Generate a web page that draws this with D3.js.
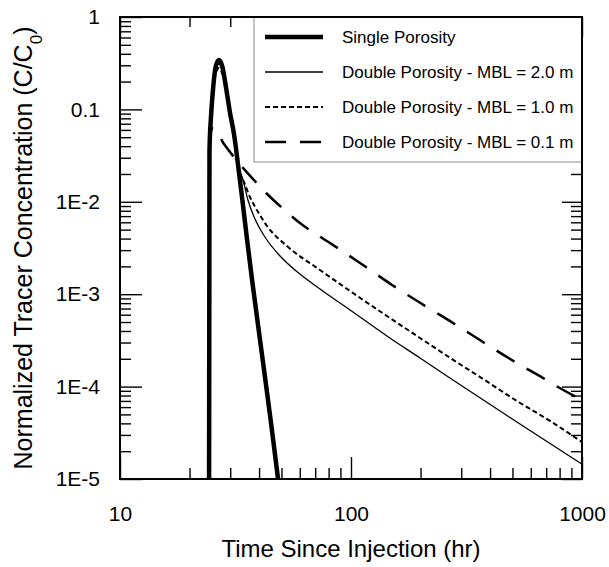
<!DOCTYPE html>
<html>
<head>
<meta charset="utf-8">
<script src="https://cdn.jsdelivr.net/npm/d3@7/dist/d3.min.js"></script>
<style>
  body { margin: 0; background: #fff; }
  text { font-family: "Liberation Sans", Arial, Helvetica, sans-serif; fill: #000; }
</style>
</head>
<body>
<div id="chart"></div>
<script>
// values: time since injection (hr) -> C/C0
const tSingle = [24.3, 24.4, 24.8, 25.3, 26.0, 26.8, 27.7, 28.8, 29.9, 31.2, 32.4, 33.7, 35.5, 37.3, 41.2, 44.6, 47.8, 48.3];
const cSingle = [1e-5, 0.036, 0.087, 0.17, 0.295, 0.343, 0.295, 0.17, 0.0937, 0.0528, 0.0257, 0.01155, 3.86e-3, 1.43e-3, 2.2e-4, 4.93e-5, 1.25e-5, 1e-5];

const tMbl20 = [24.3, 24.4, 24.5, 25.0, 25.8, 26.8, 27.9, 29.1, 30.2, 31.5, 32.8, 34.1, 35.8, 38.4, 42.4, 49.3, 60.1, 73.4, 102, 143, 199, 268, 442, 658, 1000];
const cMbl20 = [1e-5, 0.036, 0.047, 0.126, 0.254, 0.310, 0.254, 0.154, 0.0827, 0.0444, 0.0232, 0.0172, 0.01045, 6.51e-3, 4.16e-3, 2.59e-3, 1.65e-3, 1.14e-3, 6.41e-4, 3.53e-4, 2.04e-4, 1.24e-4, 5.44e-5, 2.85e-5, 1.45e-5];

const tMbl10 = [24.3, 24.4, 24.5, 25.0, 25.8, 26.8, 27.9, 29.1, 30.2, 31.5, 32.8, 34.4, 36.5, 39.6, 43.3, 52.8, 73.4, 102, 143, 199, 282, 373, 523, 727, 1000];
const cMbl10 = [1e-5, 0.036, 0.047, 0.117, 0.230, 0.281, 0.230, 0.143, 0.0768, 0.0412, 0.0221, 0.0164, 0.0113, 7.76e-3, 5.47e-3, 3.32e-3, 1.83e-3, 1.03e-3, 5.81e-4, 3.36e-4, 1.89e-4, 1.21e-4, 6.98e-5, 4.25e-5, 2.51e-5];

const tMbl01 = [24.3, 24.4, 24.5, 25.3, 28.2, 32.4, 37.3, 42.9, 49.3, 60.1, 81.1, 109.4, 150.5, 203, 276.5, 372.8, 512.9, 678, 787, 1000];
const cMbl01 = [1e-5, 0.036, 0.0528, 0.0629, 0.0422, 0.027, 0.0181, 0.01245, 9.0e-3, 5.9e-3, 3.58e-3, 2.18e-3, 1.26e-3, 7.83e-4, 4.88e-4, 3.04e-4, 1.85e-4, 1.24e-4, 9.9e-5, 7.16e-5];

const seriesNames = ["Single Porosity", "Double Porosity - MBL = 2.0 m", "Double Porosity - MBL = 1.0 m", "Double Porosity - MBL = 0.1 m"];
const xTickValues = [10, 100, 1000];
const xTickLabels = ["10", "100", "1000"];
const yTickValues = [1, 0.1, 1e-2, 1e-3, 1e-4, 1e-5];
const yTickLabels = ["1", "0.1", "1E-2", "1E-3", "1E-4", "1E-5"];

const W = 609, H = 567;
const margin = {top: 17, right: 27, bottom: 88, left: 120};
const width = W - margin.left - margin.right;
const height = H - margin.top - margin.bottom;

let svg = d3.select("#chart")
  .append("svg")
    .attr("width", W)
    .attr("height", H)
  .append("g")
    .attr("transform", "translate(" + margin.left + "," + margin.top + ")");

let x = d3.scaleLog().domain([10, 1000]).range([0, width]);
let y = d3.scaleLog().domain([1e-5, 1]).range([height, 0]);

// minor tick positions (2..9 in each decade)
let xMinor = [], yMinor = [];
[10, 100].forEach(d => { for (let k = 2; k <= 9; k++) xMinor.push(k * d); });
[1e-5, 1e-4, 1e-3, 1e-2, 0.1].forEach(d => { for (let k = 2; k <= 9; k++) yMinor.push(k * d); });

/*
 * Axes - all ticks point inward
 */
function noDomain(g) { g.select(".domain").remove(); }

// bottom
svg.append("g")
  .attr("transform", "translate(0," + height + ")")
  .call(d3.axisBottom(x).tickValues(xMinor).tickSize(-11).tickFormat(""))
  .call(noDomain);
svg.append("g")
  .attr("class", "x-major")
  .attr("transform", "translate(0," + height + ")")
  .call(d3.axisBottom(x).tickValues(xTickValues).tickSize(-22).tickPadding(27)
    .tickFormat((d, i) => xTickLabels[i]))
  .call(noDomain);
// top
svg.append("g")
  .call(d3.axisTop(x).tickValues(xMinor).tickSize(-10).tickFormat(""))
  .call(noDomain);
svg.append("g")
  .call(d3.axisTop(x).tickValues(xTickValues).tickSize(-20).tickFormat(""))
  .call(noDomain);
// left
svg.append("g")
  .call(d3.axisLeft(y).tickValues(yMinor).tickSize(-11).tickFormat(""))
  .call(noDomain);
svg.append("g")
  .attr("class", "y-major")
  .call(d3.axisLeft(y).tickValues(yTickValues).tickSize(-22).tickPadding(20)
    .tickFormat((d, i) => yTickLabels[i]))
  .call(noDomain);
// right
svg.append("g")
  .attr("transform", "translate(" + width + ",0)")
  .call(d3.axisRight(y).tickValues(yMinor).tickSize(-11).tickFormat(""))
  .call(noDomain);
svg.append("g")
  .attr("transform", "translate(" + width + ",0)")
  .call(d3.axisRight(y).tickValues(yTickValues).tickSize(-20).tickFormat(""))
  .call(noDomain);

svg.selectAll(".tick line").attr("stroke", "#000").attr("stroke-width", 1.4);
svg.selectAll(".x-major text, .y-major text")
  .style("font-size", "21px")
  .style("font-family", "'Liberation Sans', Arial, sans-serif");

/*
 * Curves
 */
const series = [
  {name: seriesNames[0], t: tSingle, c: cSingle, w: 4.5, dash: null, offset: 0},
  {name: seriesNames[1], t: tMbl20, c: cMbl20, w: 1.3, dash: null, offset: 0},
  {name: seriesNames[2], t: tMbl10, c: cMbl10, w: 2, dash: "5,3", offset: 0},
  // offset puts a gap right after the small early peak, like the original
  {name: seriesNames[3], t: tMbl01, c: cMbl01, w: 2.5, dash: "21,14", offset: 19}
];

let line = d3.line()
  .x(d => x(d[0]))
  .y(d => y(d[1]))
  .curve(d3.curveMonotoneX);

// draw the thick one last so it sits on top like the original
[1, 2, 3, 0].forEach(i => {
  let s = series[i];
  svg.append("path")
    .datum(s.t.map((t, j) => [t, s.c[j]]))
    .attr("d", line)
    .attr("fill", "none")
    .attr("stroke", "#000")
    .attr("stroke-width", s.w)
    .attr("stroke-linejoin", "round")
    .attr("stroke-dasharray", s.dash)
    .attr("stroke-dashoffset", s.offset);
});

/*
 * Legend
 */
let legend = svg.append("g").attr("transform", "translate(" + (254 - margin.left) + ",0)");
legend.append("rect")
  .attr("width", width - (254 - margin.left))
  .attr("height", 145)
  .attr("fill", "#fff")
  .attr("stroke", "#888")
  .attr("stroke-width", 1);

series.forEach((s, i) => {
  let yy = 20 + i * 35;
  legend.append("line")
    .attr("x1", 11).attr("x2", 69)
    .attr("y1", yy).attr("y2", yy)
    .attr("stroke", "#000")
    .attr("stroke-width", s.w)
    .attr("stroke-dasharray", s.dash);
  legend.append("text")
    .attr("x", 88)
    .attr("y", yy + 6)
    .style("font-size", "17px")
    .text(s.name);
});

// frame, drawn over the legend edge
svg.append("rect")
  .attr("width", width).attr("height", height)
  .attr("fill", "none").attr("stroke", "#000").attr("stroke-width", 2);

/*
 * Axis titles
 */
svg.append("text")
  .attr("x", width / 2)
  .attr("y", 557 - margin.top)
  .attr("text-anchor", "middle")
  .style("font-size", "24px")
  .text("Time Since Injection (hr)");

let ylab = svg.append("text")
  .attr("transform", "translate(" + (32 - margin.left) + "," + (height / 2) + ") rotate(-90)")
  .attr("text-anchor", "middle")
  .style("font-size", "25px");
ylab.append("tspan").text("Normalized Tracer Concentration (C/C");
ylab.append("tspan").attr("baseline-shift", "sub").style("font-size", "17px").text("0");
ylab.append("tspan").text(")");
</script>
</body>
</html>
